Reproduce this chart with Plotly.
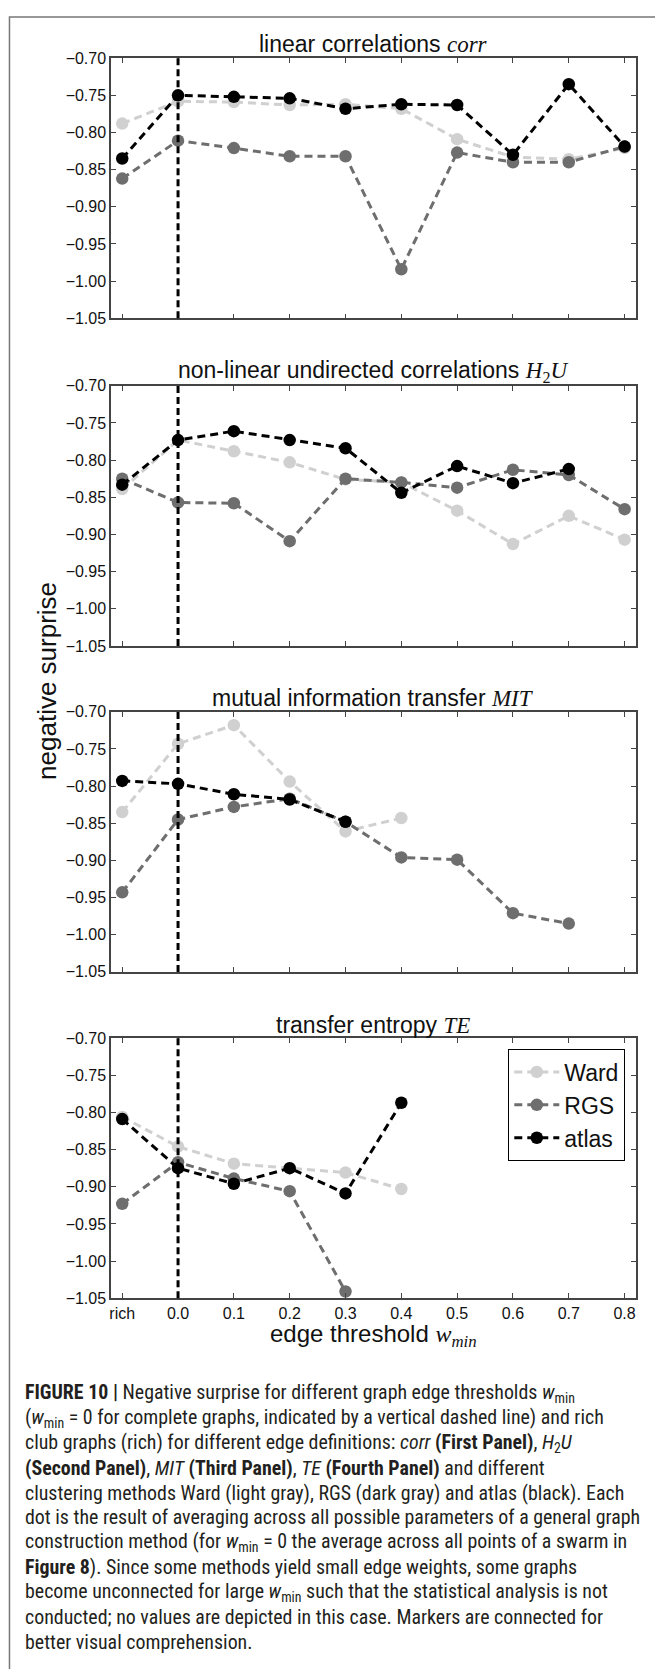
import plotly.graph_objects as go

W, H = 655, 1669

# ---------------- data ----------------
x_labels = ["rich", "0.0", "0.1", "0.2", "0.3", "0.4", "0.5", "0.6", "0.7", "0.8"]
x_pos = [-0.1, 0.0, 0.1, 0.2, 0.3, 0.4, 0.5, 0.6, 0.7, 0.8]
complete_graph_threshold = 0.0

SERIF = "font-family:Liberation Serif"
panel_titles = [
    f"linear correlations <i><span style='{SERIF}'>corr</span></i>",
    f"non-linear undirected correlations <i><span style='{SERIF}'>H</span></i><sub><span style='{SERIF}'>2</span></sub><i><span style='{SERIF}'>U</span></i>",
    f"mutual information transfer <i><span style='{SERIF}'>MIT</span></i>",
    f"transfer entropy <i><span style='{SERIF}'>TE</span></i>",
]

# panel 1: corr
corr_ward = [-0.788, -0.758, -0.759, -0.763, -0.762, -0.768, -0.809, -0.833, -0.836, -0.821]
corr_rgs = [-0.862, -0.811, -0.821, -0.832, -0.832, -0.984, -0.827, -0.840, -0.840, -0.819]
corr_atlas = [-0.835, -0.750, -0.752, -0.754, -0.768, -0.762, -0.763, -0.830, -0.735, -0.819]

# panel 2: H2U
h2u_ward = [-0.839, -0.773, -0.788, -0.803, -0.826, -0.830, -0.868, -0.913, -0.875, -0.907]
h2u_rgs = [-0.825, -0.857, -0.858, -0.909, -0.825, -0.830, -0.837, -0.813, -0.820, -0.866]
h2u_atlas = [-0.833, -0.773, -0.761, -0.773, -0.784, -0.844, -0.808, -0.831, -0.812, None]

# panel 3: MIT
mit_ward = [-0.835, -0.743, -0.718, -0.794, -0.861, -0.843, None, None, None, None]
mit_rgs = [-0.943, -0.845, -0.828, -0.817, -0.848, -0.896, -0.899, -0.971, -0.985, None]
mit_atlas = [-0.793, -0.797, -0.811, -0.818, -0.848, None, None, None, None, None]

# panel 4: TE
te_ward = [-0.806, -0.846, -0.869, -0.875, -0.881, -0.903, None, None, None, None]
te_rgs = [-0.923, -0.867, -0.889, -0.906, -1.041, None, None, None, None, None]
te_atlas = [-0.809, -0.875, -0.896, -0.875, -0.909, -0.787, None, None, None, None]

series_names = ["Ward", "RGS", "atlas"]
series_colors = ["#d0d0d0", "#6e6e6e", "#000000"]
panels = [
    [corr_ward, corr_rgs, corr_atlas],
    [h2u_ward, h2u_rgs, h2u_atlas],
    [mit_ward, mit_rgs, mit_atlas],
    [te_ward, te_rgs, te_atlas],
]

y_ticks = [-0.70, -0.75, -0.80, -0.85, -0.90, -0.95, -1.00, -1.05]

caption_lines = [
    "<b>FIGURE 10 |</b> Negative surprise for different graph edge thresholds <i>w</i><sub>min</sub>",
    "(<i>w</i><sub>min</sub> = 0 for complete graphs, indicated by a vertical dashed line) and rich",
    "club graphs (rich) for different edge definitions: <i>corr</i> <b>(First Panel)</b>, <i>H</i><sub>2</sub><i>U</i>",
    "<b>(Second Panel)</b>, <i>MIT</i> <b>(Third Panel)</b>, <i>TE</i> <b>(Fourth Panel)</b> and different",
    "clustering methods Ward (light gray), RGS (dark gray) and atlas (black). Each",
    "dot is the result of averaging across all possible parameters of a general graph",
    "construction method (for <i>w</i><sub>min</sub> = 0 the average across all points of a swarm in",
    "<b>Figure 8</b>). Since some methods yield small edge weights, some graphs",
    "become unconnected for large <i>w</i><sub>min</sub> such that the statistical analysis is not",
    "conducted; no values are depicted in this case. Markers are connected for",
    "better visual comprehension.",
]

# ---------------- layout geometry (pixels) ----------------
def px_x(p):
    return p / W

def px_y(p):
    return 1 - p / H

plot_left, plot_right = 109.4, 635.7
panel_tops = [50.7, 381.7, 711.0, 1040.7]
panel_h = 262.8
title_y = [36.0, 367.0, 697.0, 1027.0]

fig = go.Figure()
sans = "Liberation Sans, Arial, sans-serif"

for i, series in enumerate(panels):
    ax = "" if i == 0 else str(i + 1)
    for name, vals, col in zip(series_names, series, series_colors):
        fig.add_trace(go.Scatter(
            x=x_pos, y=vals, name=name, mode="lines+markers",
            line=dict(color=col, width=3, dash="8px,5px"),
            marker=dict(color=col, size=12.5, line=dict(width=0)),
            xaxis="x" + ax, yaxis="y" + ax,
            showlegend=(i == 3), connectgaps=False,
        ))
    top = panel_tops[i]
    bottom = top + panel_h
    axis_common = dict(showline=True, linecolor="#444", linewidth=1.5, mirror="ticks",
                       ticks="inside", ticklen=5, tickwidth=1, tickcolor="#444",
                       showgrid=False, zeroline=False)
    fig.layout["xaxis" + ax] = dict(
        domain=[px_x(plot_left), px_x(plot_right)], anchor="y" + ax,
        range=[-0.12, 0.82], tickvals=x_pos, ticktext=x_labels,
        showticklabels=(i == 3), tickfont=dict(family=sans, size=16, color="#111"),
        **axis_common)
    fig.layout["yaxis" + ax] = dict(
        domain=[px_y(bottom), px_y(top)], anchor="x" + ax,
        range=[-1.05, -0.70], tickvals=y_ticks, tickformat=".2f",
        tickfont=dict(family=sans, size=16, color="#111"),
        **axis_common)
    fig.add_shape(type="line", xref="x" + ax, yref="y" + ax + " domain",
                  x0=complete_graph_threshold, x1=complete_graph_threshold, y0=0, y1=1,
                  line=dict(color="black", width=3, dash="7px,4px"), layer="above")
    fig.add_annotation(text=panel_titles[i], xref="paper", yref="paper",
                       x=px_x((plot_left + plot_right) / 2), y=px_y(title_y[i]),
                       xanchor="center", yanchor="middle", showarrow=False,
                       font=dict(family=sans, size=23, color="#111"))

# axis titles
fig.add_annotation(text="negative surprise", xref="paper", yref="paper",
                   x=px_x(45), y=px_y(680), textangle=-90, showarrow=False,
                   xanchor="center", yanchor="middle",
                   font=dict(family=sans, size=26, color="#111"))
fig.add_annotation(text=f"edge threshold <i><span style='{SERIF}'>w</span></i><sub><i><span style='{SERIF}'>min</span></i></sub>",
                   xref="paper", yref="paper",
                   x=px_x(372.5), y=px_y(1341.5), showarrow=False,
                   xanchor="center", yanchor="middle",
                   font=dict(family=sans, size=24, color="#111"))

# caption
cap_font = "Liberation Sans Narrow, Arial Narrow, Roboto Condensed, Liberation Sans, sans-serif"
for k, line in enumerate(caption_lines):
    fig.add_annotation(text=line, xref="paper", yref="paper",
                       x=px_x(21.5), y=px_y(1400 + k * 25.1), showarrow=False,
                       xanchor="left", yanchor="middle",
                       font=dict(family=cap_font, size=19.9, color="#231f20"))

# outer frame
fig.add_shape(type="rect", xref="paper", yref="paper",
              x0=px_x(7.5), x1=px_x(700), y0=px_y(1720), y1=px_y(9),
              line=dict(color="#777", width=1.5), fillcolor="rgba(0,0,0,0)", layer="below")

fig.update_layout(
    width=W, height=H, margin=dict(l=0, r=0, t=0, b=0),
    paper_bgcolor="white", plot_bgcolor="white",
    showlegend=True,
    legend=dict(x=px_x(625), y=px_y(1052), xanchor="right", yanchor="top",
                bordercolor="black", borderwidth=1.2, bgcolor="white",
                font=dict(family=sans, size=23, color="#111"),
                itemwidth=45, tracegroupgap=0),
)

fig.write_html("out.html")
